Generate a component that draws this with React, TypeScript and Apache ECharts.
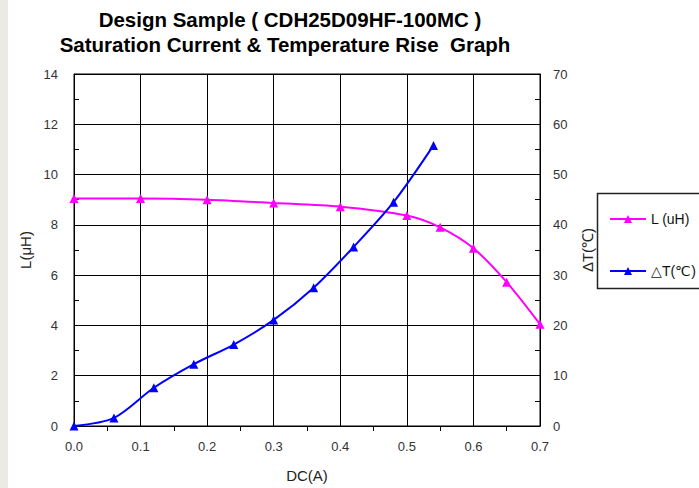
import React, { useEffect, useRef } from "react";
import * as echarts from "echarts";

const currentL = [0, 0.1, 0.2, 0.3, 0.4, 0.5, 0.55, 0.6, 0.65, 0.7];
const inductance = [9.05, 9.05, 9.0, 8.87, 8.72, 8.37, 7.9, 7.07, 5.72, 4.05];
const currentT = [0, 0.06, 0.12, 0.18, 0.24, 0.3, 0.36, 0.42, 0.48, 0.54];
const tempRise = [0, 1.6, 7.6, 12.3, 16.2, 21.1, 27.5, 35.6, 44.5, 55.8];

const titleLines = ["Design Sample ( CDH25D09HF-100MC )", "Saturation Current & Temperature Rise  Graph"];
const seriesNames = ["L (uH)", "\u25B3T(\u2103)"];
const xName = "DC(A)";
const yLeftName = "L(\u03BCH)";
const yRightName = "\u0394T(\u2103)";

export default function App() {
  const ref = useRef<HTMLDivElement>(null);
  useEffect(() => {
    if (!ref.current) return;
    const chart = echarts.init(ref.current, null, { renderer: "svg" });
    const font = "'Liberation Sans', Arial, sans-serif";
    const axisLabel = { color: "#333", fontSize: 13, fontFamily: font };
    chart.setOption({
      animation: false,
      backgroundColor: "#ffffff",
      textStyle: { fontFamily: font },
      graphic: [
        { type: "rect", shape: { x: 0, y: 0, width: 8, height: 488 }, style: { fill: "#ecebe3" }, z: 0 },
        {
          type: "text",
          x: 290,
          y: 19,
          style: {
            text: titleLines[0],
            fontSize: 20.5,
            fontWeight: "bold",
            fontFamily: font,
            fill: "#000",
            align: "center",
            verticalAlign: "middle",
          },
        },
        {
          type: "text",
          x: 285,
          y: 44,
          style: {
            text: titleLines[1],
            fontSize: 20.5,
            fontWeight: "bold",
            fontFamily: font,
            fill: "#000",
            align: "center",
            verticalAlign: "middle",
          },
        },
        {
          type: "rect",
          shape: { x: 597.5, y: 193.5, width: 120, height: 95 },
          style: { fill: "#fff", stroke: "#222", lineWidth: 1.5 },
          z: 5,
        },
      ],
      legend: {
        orient: "vertical",
        left: 604,
        top: 207,
        itemGap: 38,
        itemWidth: 36,
        itemHeight: 10,
        z: 10,
        textStyle: { fontSize: 14, color: "#111", fontFamily: font },
        data: seriesNames,
      },
      grid: {
        left: 74,
        right: 159,
        top: 74,
        bottom: 61,
        show: true,
        borderColor: "#000",
        borderWidth: 1,
      },
      xAxis: {
        type: "value",
        min: 0,
        max: 0.7,
        interval: 0.1,
        name: xName,
        nameLocation: "middle",
        nameGap: 42,
        nameTextStyle: { fontSize: 15, color: "#222", fontFamily: font },
        axisLine: { show: true, lineStyle: { color: "#000", width: 1 } },
        axisTick: { show: false },
        minorTick: { show: true, splitNumber: 2, length: 5, lineStyle: { color: "#000" } },
        splitLine: { show: true, lineStyle: { color: "#000", width: 1 } },
        axisLabel: { ...axisLabel, margin: 14, formatter: (v: number) => v.toFixed(1) },
      },
      yAxis: [
        {
          type: "value",
          min: 0,
          max: 14,
          interval: 2,
          name: yLeftName,
          nameLocation: "middle",
          nameGap: 38,
          nameTextStyle: { fontSize: 15, color: "#222", fontFamily: font },
          axisLine: { show: true, lineStyle: { color: "#000", width: 1 } },
          axisTick: { show: true, inside: true, length: 5, lineStyle: { color: "#000" } },
          minorTick: { show: true, splitNumber: 2, length: 5, lineStyle: { color: "#000" } },
          splitLine: { show: true, lineStyle: { color: "#000", width: 1 } },
          axisLabel: { ...axisLabel, margin: 16 },
        },
        {
          type: "value",
          min: 0,
          max: 70,
          interval: 10,
          position: "right",
          name: yRightName,
          nameLocation: "middle",
          nameGap: 40,
          nameRotate: 90,
          nameTextStyle: { fontSize: 15, color: "#222", fontFamily: font },
          axisLine: { show: true, lineStyle: { color: "#000", width: 1 } },
          axisTick: { show: true, inside: true, length: 5, lineStyle: { color: "#000" } },
          minorTick: { show: true, splitNumber: 2, length: 5, lineStyle: { color: "#000" } },
          splitLine: { show: false },
          axisLabel: { ...axisLabel, margin: 13 },
        },
      ],
      series: [
        {
          name: seriesNames[0],
          type: "line",
          smooth: 0.3,
          yAxisIndex: 0,
          data: currentL.map((x, i) => [x, inductance[i]]),
          symbol: "triangle",
          symbolSize: 9,
          lineStyle: { color: "#ff00ff", width: 2 },
          itemStyle: { color: "#ff00ff" },
          z: 3,
        },
        {
          name: seriesNames[1],
          type: "line",
          smooth: 0.3,
          yAxisIndex: 1,
          data: currentT.map((x, i) => [x, tempRise[i]]),
          symbol: "triangle",
          symbolSize: 9,
          lineStyle: { color: "#0000ff", width: 2 },
          itemStyle: { color: "#0000ff" },
          z: 3,
        },
      ],
    });
    return () => chart.dispose();
  }, []);
  return (
    <div
      ref={ref}
      style={{ position: "fixed", left: 0, top: 0, width: 699, height: 488, background: "#fff" }}
    />
  );
}
